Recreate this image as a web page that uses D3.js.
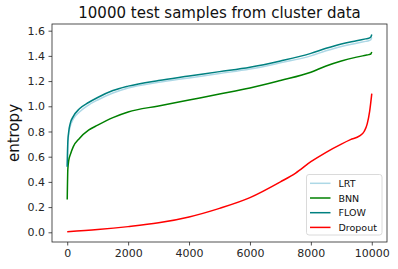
<!DOCTYPE html>
<html><head><meta charset="utf-8">
<script src="https://cdn.jsdelivr.net/npm/d3@7"></script>
<style>body{margin:0;background:#fff}svg{display:block;font-family:"DejaVu Sans",sans-serif}</style>
</head><body><svg id="c" width="398" height="269"></svg>
<script>
const title = "10000 test samples from cluster data";
const yLabel = "entropy";
const xTicks = [0, 2000, 4000, 6000, 8000, 10000];
const yTicks = [0.0, 0.2, 0.4, 0.6, 0.8, 1.0, 1.2, 1.4, 1.6];
const seriesNames = ["LRT", "BNN", "FLOW", "Dropout"];
const seriesColors = ["#add8e6", "green", "teal", "red"];
const idxA = [0, 20, 50, 100, 200, 400, 700, 1000, 1500, 2000, 3000, 4000, 5000, 6000, 7000, 8000, 8500, 9000, 9500, 9800, 9900, 9970, 10000];
const lrt  = [0.52, 0.70, 0.78, 0.84, 0.90, 0.955, 1.01, 1.05, 1.105, 1.145, 1.19, 1.225, 1.26, 1.295, 1.345, 1.40, 1.44, 1.475, 1.50, 1.515, 1.52, 1.528, 1.545];
const bnn  = [0.26, 0.50, 0.57, 0.615, 0.68, 0.745, 0.81, 0.85, 0.91, 0.955, 1.003, 1.05, 1.097, 1.145, 1.205, 1.27, 1.32, 1.36, 1.39, 1.405, 1.41, 1.415, 1.43];
const flow = [0.52, 0.72, 0.80, 0.865, 0.92, 0.98, 1.03, 1.07, 1.125, 1.16, 1.205, 1.24, 1.275, 1.31, 1.36, 1.42, 1.46, 1.495, 1.52, 1.535, 1.54, 1.55, 1.57];
const idxD = [0, 1000, 2000, 3000, 4000, 5000, 6000, 7000, 7500, 8000, 8500, 9000, 9300, 9600, 9750, 9850, 9930, 10000];
const dropout = [0.005, 0.022, 0.045, 0.075, 0.122, 0.19, 0.275, 0.40, 0.47, 0.56, 0.635, 0.70, 0.735, 0.765, 0.80, 0.86, 0.96, 1.10];

const svg = d3.select("#c");
const L = 52, R = 387, T = 24, B = 242;
const x = d3.scaleLinear().domain([-500, 10500]).range([L, R]);
const y = d3.scaleLinear().domain([-0.077, 1.653]).range([B, T]);

const series = [
  {name: "LRT", idx: idxA, v: lrt},
  {name: "BNN", idx: idxA, v: bnn},
  {name: "FLOW", idx: idxA, v: flow},
  {name: "Dropout", idx: idxD, v: dropout}
];
const line = d3.line().x(d => x(d[0])).y(d => y(d[1])).curve(d3.curveMonotoneX);
const g = svg.append("g");
series.forEach((s, i) => {
  g.append("path").attr("d", line(s.idx.map((k, j) => [k, s.v[j]])))
    .attr("fill", "none").attr("stroke", seriesColors[seriesNames.indexOf(s.name)])
    .attr("stroke-width", 1.5);
});

const xa = svg.append("g").attr("transform", `translate(0,${B})`)
  .call(d3.axisBottom(x).tickValues(xTicks).tickFormat(d3.format("d")).tickSizeInner(3.5).tickSizeOuter(0).tickPadding(3.5));
const ya = svg.append("g").attr("transform", `translate(${L},0)`)
  .call(d3.axisLeft(y).tickValues(yTicks).tickFormat(d3.format(".1f")).tickSizeInner(3.5).tickSizeOuter(0).tickPadding(3.5));
[xa, ya].forEach(a => {
  a.select(".domain").remove();
  a.selectAll("line").attr("stroke", "#262626").attr("stroke-width", 0.8);
  a.selectAll("text").attr("font-size", 11).attr("fill", "#262626").attr("font-family", "DejaVu Sans");
});

svg.append("rect").attr("x", L).attr("y", T).attr("width", R - L).attr("height", B - T)
  .attr("fill", "none").attr("stroke", "#262626").attr("stroke-width", 0.8);

svg.append("text").attr("x", (L + R) / 2).attr("y", 18).attr("text-anchor", "middle")
  .attr("font-size", 15).attr("fill", "#111").text(title);
svg.append("text").attr("transform", `translate(19,${(T + B) / 2}) rotate(-90)`)
  .attr("text-anchor", "middle").attr("font-size", 15).attr("fill", "#111").text(yLabel);

const lg = svg.append("g");
lg.append("rect").attr("x", 306.5).attr("y", 174.5).attr("width", 75.5).attr("height", 60.5)
  .attr("rx", 2.5).attr("fill", "#fff").attr("fill-opacity", 0.8).attr("stroke", "#d0d0d0").attr("stroke-width", 0.8);
seriesNames.forEach((n, i) => {
  const yy = 183.3 + i * 14.7;
  lg.append("line").attr("x1", 310).attr("x2", 330.5).attr("y1", yy).attr("y2", yy)
    .attr("stroke", seriesColors[i]).attr("stroke-width", 1.5);
  lg.append("text").attr("x", 338.5).attr("y", yy + 3.5).attr("font-size", 9.5).attr("fill", "#111").text(n);
});
</script></body></html>
